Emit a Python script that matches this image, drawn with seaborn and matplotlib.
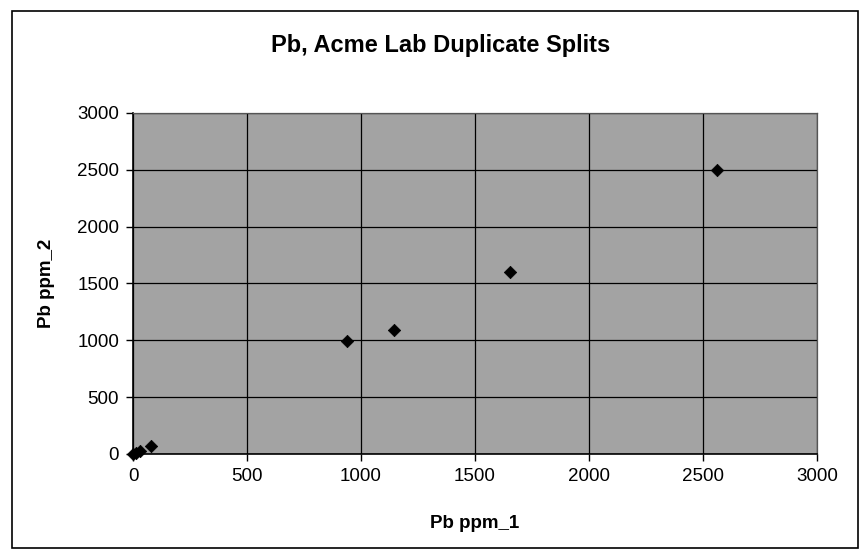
import matplotlib
matplotlib.use('Agg')
import matplotlib.pyplot as plt
import matplotlib.patches as mpatches
import pandas as pd
import seaborn as sns

# Duplicate split values
pb_ppm_1 = [2, 12, 32, 78, 940, 1145, 1655, 2560]
pb_ppm_2 = [3, 8, 28, 72, 990, 1088, 1597, 2500]
ticks = [0, 500, 1000, 1500, 2000, 2500, 3000]

font_ = 'Liberation Sans'

df = pd.DataFrame({'Pb ppm_1': pb_ppm_1, 'Pb ppm_2': pb_ppm_2})

sns.set_style('white')
plt.rcParams['font.family'] = [font_, 'DejaVu Sans']
plt.rcParams['text.color'] = 'black'
plt.rcParams['axes.labelcolor'] = 'black'
plt.rcParams['xtick.color'] = 'black'
plt.rcParams['ytick.color'] = 'black'

fig = plt.figure(figsize=(8.65, 5.56), dpi=100)
ax = fig.add_axes([0.1538, 0.1835, 0.7907, 0.6133])
ax.set_facecolor('#a3a3a3')

sns.scatterplot(data=df, x='Pb ppm_1', y='Pb ppm_2', marker='D', s=40,
                color='black', edgecolor='black', linewidth=0.5, ax=ax, zorder=3,
                clip_on=False)

ax.set_xlim(0, 3000)
ax.set_ylim(0, 3000)
ax.set_xticks(ticks)
ax.set_yticks(ticks)
ax.grid(True, color='black', linewidth=0.9)
ax.set_axisbelow(True)

for side in ['left', 'bottom']:
    ax.spines[side].set_color('black')
    ax.spines[side].set_linewidth(1.2)
for side in ['top', 'right']:
    ax.spines[side].set_color('#555555')
    ax.spines[side].set_linewidth(0.9)

ax.tick_params(axis='both', direction='out', length=5, width=1, color='black',
               labelsize=13.5, bottom=True, left=True, pad=5)

ax.set_xlabel('Pb ppm_1', fontsize=13.5, fontweight='bold', labelpad=22)
ax.set_ylabel('Pb ppm_2', fontsize=13.5, fontweight='bold', labelpad=16)
fig.text(0.509, 0.918, 'Pb, Acme Lab Duplicate Splits', ha='center', va='center',
         fontsize=17, fontweight='bold')

# chart border
fig.patches.append(mpatches.Rectangle((0.014, 0.015), 0.978, 0.965, transform=fig.transFigure,
                                      fill=False, edgecolor='black', linewidth=1.2))

plt.savefig('out.png', dpi=100)
